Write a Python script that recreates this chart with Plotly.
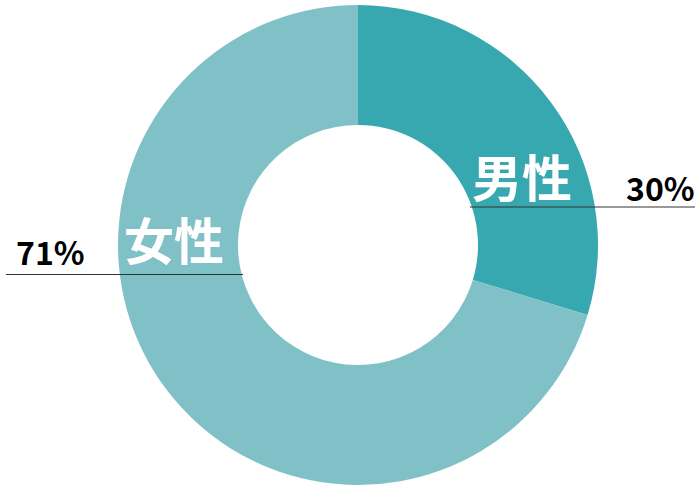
import plotly.graph_objects as go

labels = ["男性", "女性"]
values = [30, 71]
pct_labels = ["30%", "71%"]
colors = ["#38a8b0", "#80c1c8"]

W, H = 695, 500
fig = go.Figure(go.Pie(
    labels=labels, values=values, hole=0.5, sort=False, direction="clockwise",
    rotation=0, textinfo="none", hoverinfo="label+percent",
    marker=dict(colors=colors, line=dict(color="white", width=0)),
    domain=dict(x=[118/W, 598/W], y=[15/H, 495/H]), showlegend=False,
))

font_cjk = "Noto Sans CJK JP"
def px(x): return x / W
def py(y): return 1 - y / H

annotations = [
    dict(x=px(521.5), y=py(175), text="<b>" + labels[0] + "</b>", font=dict(family=font_cjk, size=50, color="white")),
    dict(x=px(173.5), y=py(238), text="<b>" + labels[1] + "</b>", font=dict(family=font_cjk, size=50, color="white")),
    dict(x=px(660), y=py(187), text="<b>" + pct_labels[0] + "</b>", font=dict(family=font_cjk, size=32, color="black")),
    dict(x=px(50), y=py(251), text="<b>" + pct_labels[1] + "</b>", font=dict(family=font_cjk, size=32, color="black")),
]
for a in annotations:
    a.update(xref="paper", yref="paper", showarrow=False, xanchor="center", yanchor="middle")

shapes = [
    dict(type="line", xref="paper", yref="paper", x0=px(470), x1=px(695), y0=py(207), y1=py(207), line=dict(color="#333333", width=1)),
    dict(type="line", xref="paper", yref="paper", x0=px(6), x1=px(243), y0=py(274.5), y1=py(274.5), line=dict(color="#333333", width=1)),
]

fig.update_layout(width=W, height=H, margin=dict(l=0, r=0, t=0, b=0),
                  paper_bgcolor="white", plot_bgcolor="white",
                  annotations=annotations, shapes=shapes)
fig.write_html("out.html", config={"displayModeBar": False},
               post_script="document.body.style.margin='0';")
